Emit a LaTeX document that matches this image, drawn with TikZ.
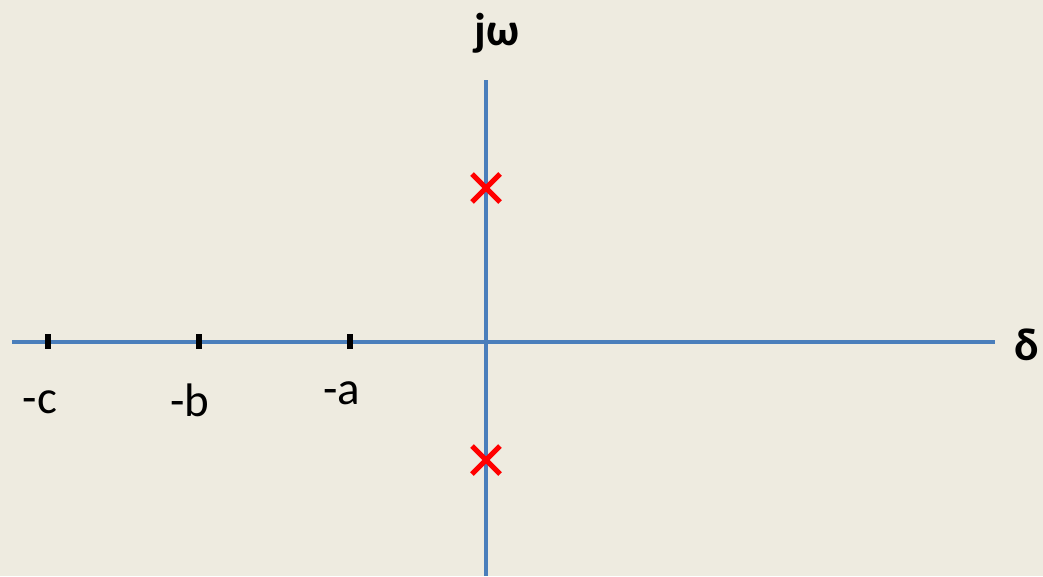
\documentclass[tikz,border=0pt]{standalone}
\usepackage{fontspec}
\setmainfont{Carlito}
\definecolor{bg}{HTML}{EEEBE0}
\definecolor{axisblue}{HTML}{4A7EBB}
\definecolor{polered}{HTML}{FF0000}
\begin{document}
\begin{tikzpicture}[x=1pt,y=-1pt,
  axis/.style={draw=axisblue,line width=4.5pt},
  tickmark/.style={draw=black,line width=5.5pt},
  pole/.style={draw=polered,line width=5pt},
  lbl/.style={font=\fontsize{47}{54}\selectfont,inner sep=0pt},
  blbl/.style={font=\fontsize{46}{54}\selectfont\bfseries,inner sep=0pt}]
\fill[bg] (0,0) rectangle (1043,576);
\useasboundingbox (0,0) rectangle (1043,576);
\coordinate (hl) at (12,342);
\coordinate (hr) at (995,342);
\coordinate (vt) at (486,80);
\coordinate (vb) at (486,576);
\draw[axis] (hl) -- (hr);
\draw[axis] (vt) -- (vb);
\foreach \n/\x in {c/48,b/199,a/350}{
  \coordinate (t\n1) at (\x,334);
  \coordinate (t\n2) at (\x,349);
  \draw[tickmark] (t\n1) -- (t\n2);
}
\foreach \n/\y in {p1/188,p2/460}{
  \coordinate (\n a) at (472,\y-14);
  \coordinate (\n b) at (500,\y+14);
  \coordinate (\n c) at (472,\y+14);
  \coordinate (\n d) at (500,\y-14);
  \draw[pole] (\n a) -- (\n b);
  \draw[pole] (\n c) -- (\n d);
}
\node[lbl] (lc) at (40,402) {-c};
\node[lbl] (lb) at (190,400) {-b};
\node[lbl] (la) at (342,393) {-a};
\node[blbl] (jw) at (497,33) {jω};
\node[blbl] (delta) at (1027,345) {δ};
\end{tikzpicture}
\end{document}
